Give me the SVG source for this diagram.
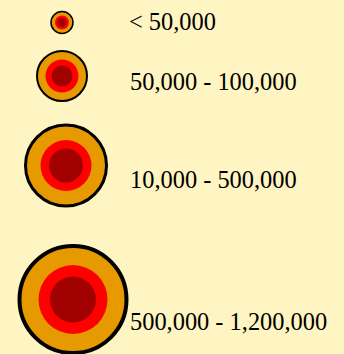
<svg xmlns="http://www.w3.org/2000/svg" width="344" height="354" viewBox="0 0 344 354">
<style>
.o{fill:#e69a00;stroke:#000}
.r{fill:#ff0000}
.d{fill:#a00000}
text{font-family:"Liberation Serif","Times New Roman",serif;font-size:24.4px;fill:#000}
</style>
<rect width="344" height="354" fill="#fff5c2"/>
<g id="s1">
<circle class="o" cx="62" cy="22.5" r="11" stroke-width="1.5"/>
<circle class="r" cx="62" cy="22.5" r="7"/>
<circle class="d" cx="62" cy="22.5" r="4.5"/>
<text x="129" y="30">&lt; 50,000</text>
</g>
<g id="s2">
<circle class="o" cx="62" cy="76" r="25" stroke-width="2"/>
<circle class="r" cx="62" cy="76" r="16.5"/>
<circle class="d" cx="62" cy="76" r="10.5"/>
<text x="130" y="90">50,000 - 100,000</text>
</g>
<g id="s3">
<circle class="o" cx="66" cy="165.5" r="40.5" stroke-width="3"/>
<circle class="r" cx="66" cy="165.5" r="25.5"/>
<circle class="d" cx="66" cy="165.5" r="17"/>
<text x="130" y="188">10,000 - 500,000</text>
</g>
<g id="s4">
<circle class="o" cx="73" cy="299.5" r="53.5" stroke-width="4"/>
<circle class="r" cx="73" cy="299.5" r="34.5"/>
<circle class="d" cx="73" cy="299.5" r="23"/>
<text x="130" y="330">500,000 - 1,200,000</text>
</g>
</svg>
